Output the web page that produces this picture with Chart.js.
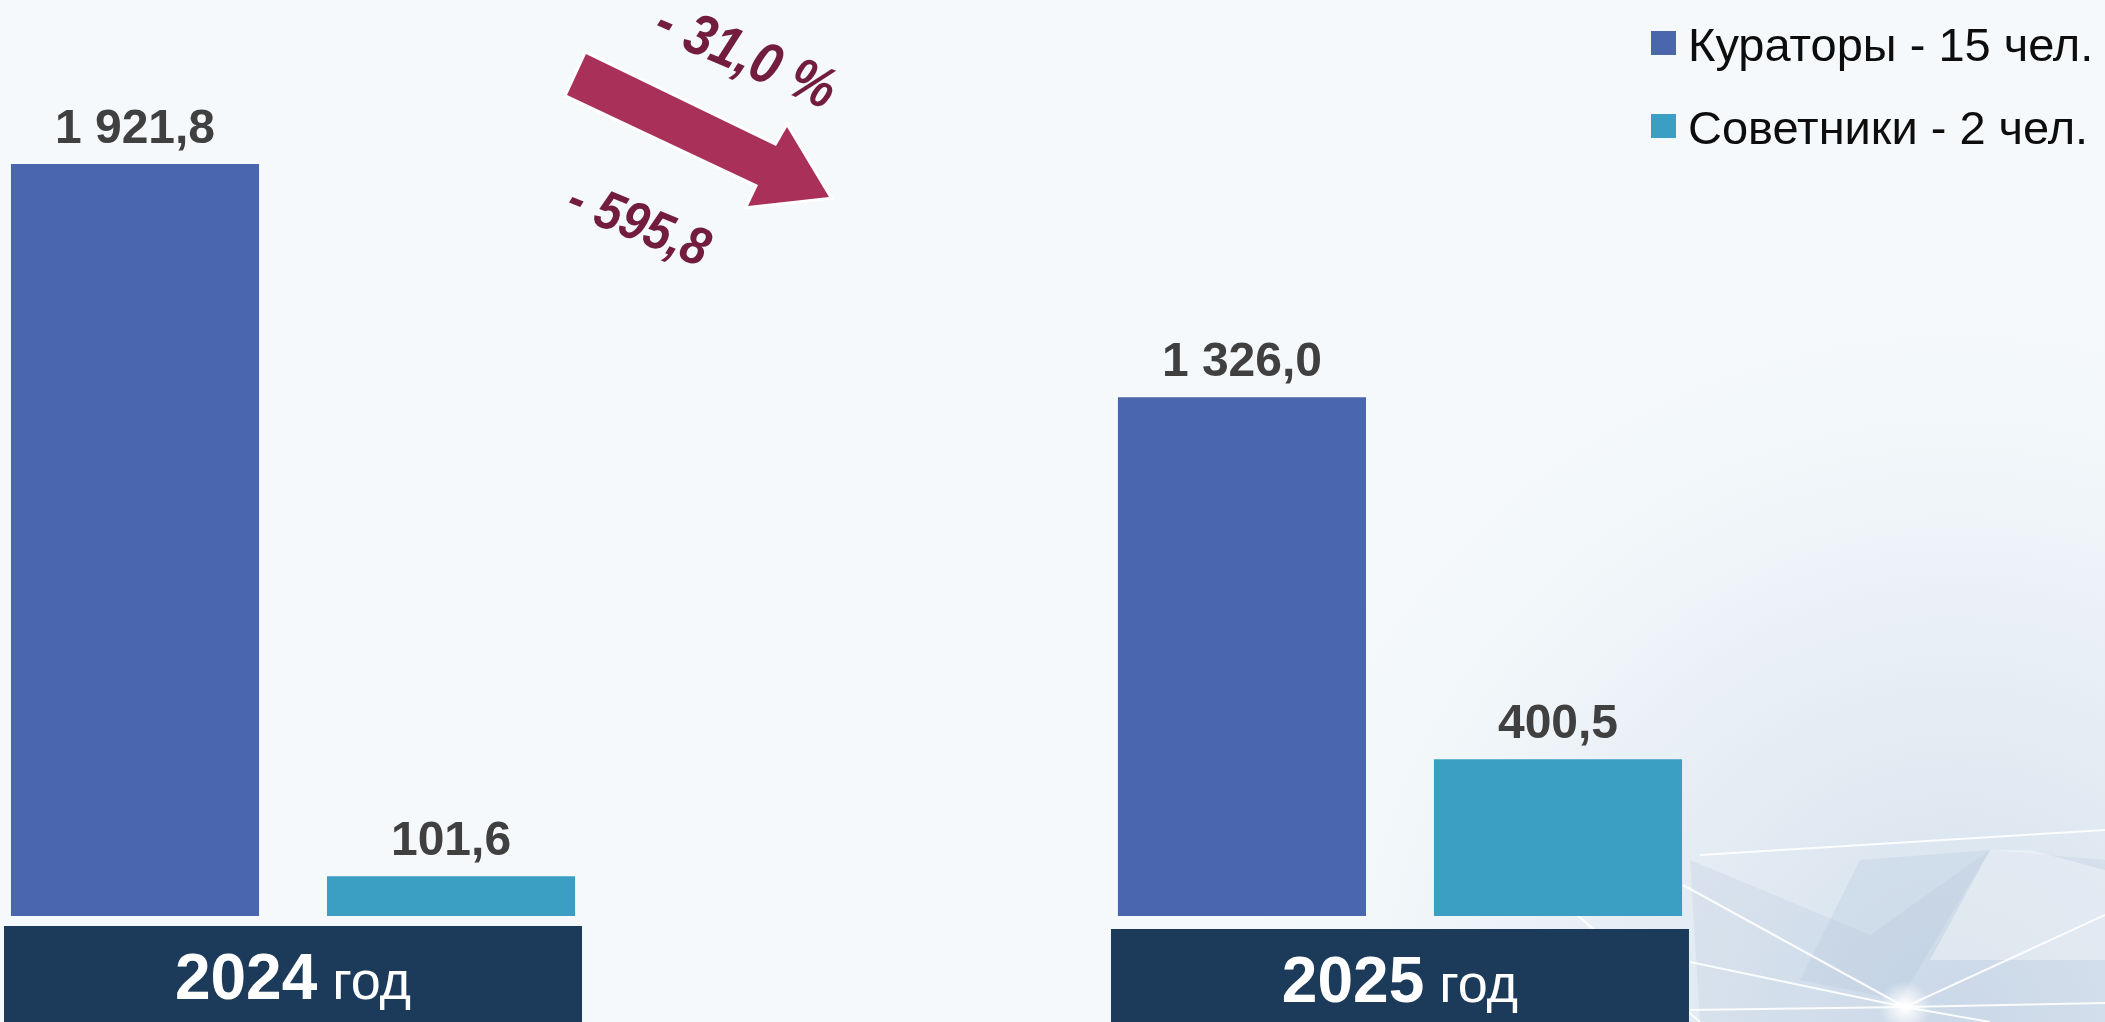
<!DOCTYPE html>
<html lang="ru">
<head>
<meta charset="utf-8">
<title>Кураторы и советники</title>
<script src="https://cdn.jsdelivr.net/npm/chart.js@4.4.1/dist/chart.umd.min.js"></script>
<style>
    html, body { margin: 0; padding: 0; background: #F5F9FB; overflow: hidden; }
    #wrap { position: relative; width: 2105px; height: 1022px; }
</style>
</head>
<body>
<div id="wrap"><canvas id="costChart"></canvas></div>
<script>
// данные
const years = ['2024', '2025'];
const yearUnit = 'год';
const seriesNames = ['Кураторы - 15 чел.', 'Советники - 2 чел.'];
const curators = [1921.8, 1326.0];
const advisors = [101.6, 400.5];
const seriesColors = ['#4A67AE', '#3A9FC2'];

const FONT = '"Liberation Sans", Arial, sans-serif';

// 1 921,8
function fmt(v) {
    const parts = Math.abs(v).toFixed(1).split('.');
    const intPart = parts[0].replace(/\B(?=(\d{3})+(?!\d))/g, ' ');
    return intPart + ',' + parts[1];
}

function poly(ctx, pts) {
    ctx.beginPath();
    pts.forEach((p, k) => k ? ctx.lineTo(p[0], p[1]) : ctx.moveTo(p[0], p[1]));
    ctx.closePath();
}

// фон
const bgPlugin = {
    id: 'bg',
    beforeDraw(chart) {
        const ctx = chart.ctx;
        const w = chart.width, h = chart.height;
        ctx.save();
        ctx.fillStyle = '#F5F9FB';
        ctx.fillRect(0, 0, w, h);
        const g = ctx.createRadialGradient(w * 0.93, h, 20, w * 0.93, h, 760);
        g.addColorStop(0, 'rgba(196,212,229,0.7)');
        g.addColorStop(0.55, 'rgba(220,230,240,0.45)');
        g.addColorStop(1, 'rgba(245,249,251,0)');
        ctx.fillStyle = g;
        ctx.fillRect(0, 0, w, h);

        // бледные грани
        ctx.fillStyle = 'rgba(185,202,221,0.28)';
        poly(ctx, [[1690, 860], [1870, 935], [1990, 850], [2105, 860], [2105, 1022], [1700, 1022]]);
        ctx.fill();
        ctx.fillStyle = 'rgba(255,255,255,0.35)';
        poly(ctx, [[1990, 850], [2030, 850], [2105, 870], [2105, 960], [1930, 960]]);
        ctx.fill();
        ctx.fillStyle = 'rgba(170,190,212,0.22)';
        poly(ctx, [[1860, 860], [1990, 850], [1900, 1000], [1800, 980]]);
        ctx.fill();

        // белые линии сети
        ctx.strokeStyle = 'rgba(255,255,255,0.9)';
        ctx.lineWidth = 2;
        const node = [1905, 1007];
        [[1683, 885], [1690, 962], [2105, 915], [2105, 1003], [1690, 1010], [1990, 1022]].forEach(p => {
            ctx.beginPath();
            ctx.moveTo(node[0], node[1]);
            ctx.lineTo(p[0], p[1]);
            ctx.stroke();
        });
        ctx.beginPath();
        ctx.moveTo(1700, 855); ctx.lineTo(2105, 830);
        ctx.stroke();
        ctx.beginPath();
        ctx.moveTo(1700, 1022); ctx.lineTo(1560, 900);
        ctx.stroke();
        const glow = ctx.createRadialGradient(node[0], node[1], 2, node[0], node[1], 26);
        glow.addColorStop(0, 'rgba(255,255,255,1)');
        glow.addColorStop(1, 'rgba(255,255,255,0)');
        ctx.fillStyle = glow;
        ctx.fillRect(node[0] - 30, node[1] - 30, 60, 60);
        ctx.restore();
    }
};

// подписи значений, плашки годов, легенда, стрелка
const decorPlugin = {
    id: 'decor',
    afterDatasetsDraw(chart) {
        const ctx = chart.ctx;
        const xScale = chart.scales.x;
        const area = chart.chartArea;
        ctx.save();

        // значения над столбцами
        ctx.fillStyle = '#404040';
        ctx.font = 'bold 48px ' + FONT;
        ctx.textAlign = 'center';
        ctx.textBaseline = 'alphabetic';
        chart.data.datasets.forEach((ds, di) => {
            chart.getDatasetMeta(di).data.forEach((bar, i) => {
                ctx.fillText(fmt(ds.data[i].y), bar.x, bar.y - 21);
            });
        });

        // плашки с годами
        years.forEach((yr, i) => {
            const cx = xScale.getPixelForValue(i);
            const top = area.bottom + 10 + i * 3;
            ctx.fillStyle = '#1C3B5A';
            ctx.fillRect(cx - 289, top, 578, chart.height - top);
            ctx.font = 'bold 64px ' + FONT;
            const w1 = ctx.measureText(yr).width;
            ctx.font = '54px ' + FONT;
            const gap = 15;
            const w2 = ctx.measureText(yearUnit).width;
            const start = cx - (w1 + gap + w2) / 2;
            const base = top + 73;
            ctx.fillStyle = '#FFFFFF';
            ctx.textAlign = 'left';
            ctx.font = 'bold 64px ' + FONT;
            ctx.fillText(yr, start, base);
            ctx.font = '54px ' + FONT;
            ctx.fillText(yearUnit, start + w1 + gap, base);
        });

        // легенда
        chart.data.datasets.forEach((ds, di) => {
            const rowY = 43 + di * 83;
            ctx.fillStyle = ds.backgroundColor;
            ctx.fillRect(1651, rowY - 12, 25, 24);
            ctx.fillStyle = '#0D0D0D';
            ctx.font = '47px ' + FONT;
            ctx.textAlign = 'left';
            ctx.fillText(ds.label, 1688, rowY + 18);
        });

        // стрелка изменения
        poly(ctx, [[586, 54], [776, 146], [787, 127], [829, 197], [748, 206], [758, 185], [567, 95]]);
        ctx.lineJoin = 'miter';
        ctx.strokeStyle = '#FFFFFF';
        ctx.lineWidth = 6;
        ctx.stroke();
        ctx.fillStyle = '#A93159';
        ctx.fill();

        const diff = curators[1] - curators[0];
        const pct = diff / curators[0] * 100;
        ctx.fillStyle = '#721D3D';
        ctx.textAlign = 'center';
        ctx.textBaseline = 'middle';
        [[(pct < 0 ? '- ' : '+ ') + fmt(pct) + ' %', 745, 58, 23, 58],
         [(diff < 0 ? '- ' : '+ ') + fmt(diff), 638, 226, 22, 54]].forEach(t => {
            ctx.save();
            ctx.font = 'italic bold ' + t[4] + 'px ' + FONT;
            ctx.translate(t[1], t[2]);
            ctx.rotate(t[3] * Math.PI / 180);
            ctx.scale(0.88, 1);
            ctx.fillText(t[0], 0, 0);
            ctx.restore();
        });

        ctx.restore();
    }
};

document.addEventListener('DOMContentLoaded', function() {
    const ctx = document.getElementById('costChart').getContext('2d');
    new Chart(ctx, {
        type: 'bar',
        data: {
            datasets: [{
                label: seriesNames[0],
                data: curators.map((v, i) => ({ x: i, y: v })),
                backgroundColor: seriesColors[0]
            }, {
                label: seriesNames[1],
                data: advisors.map((v, i) => ({ x: i, y: v })),
                backgroundColor: seriesColors[1]
            }]
        },
        options: {
            responsive: true,
            maintainAspectRatio: false,
            animation: false,
            layout: { padding: { left: 0, right: 0, top: 0, bottom: 106 } },
            categoryPercentage: 0.571,
            barPercentage: 0.785,
            scales: {
                x: {
                    type: 'linear',
                    display: false,
                    offset: false,
                    grid: { offset: false },
                    min: -0.2647,
                    max: 1.6369,
                    afterBuildTicks: (scale) => {
                        scale.ticks = years.map((y, i) => ({ value: i }));
                    }
                },
                y: {
                    display: false,
                    min: 0,
                    max: 2341
                }
            },
            plugins: {
                legend: { display: false },
                tooltip: { enabled: false }
            }
        },
        plugins: [bgPlugin, decorPlugin]
    });
});
</script>
</body>
</html>
